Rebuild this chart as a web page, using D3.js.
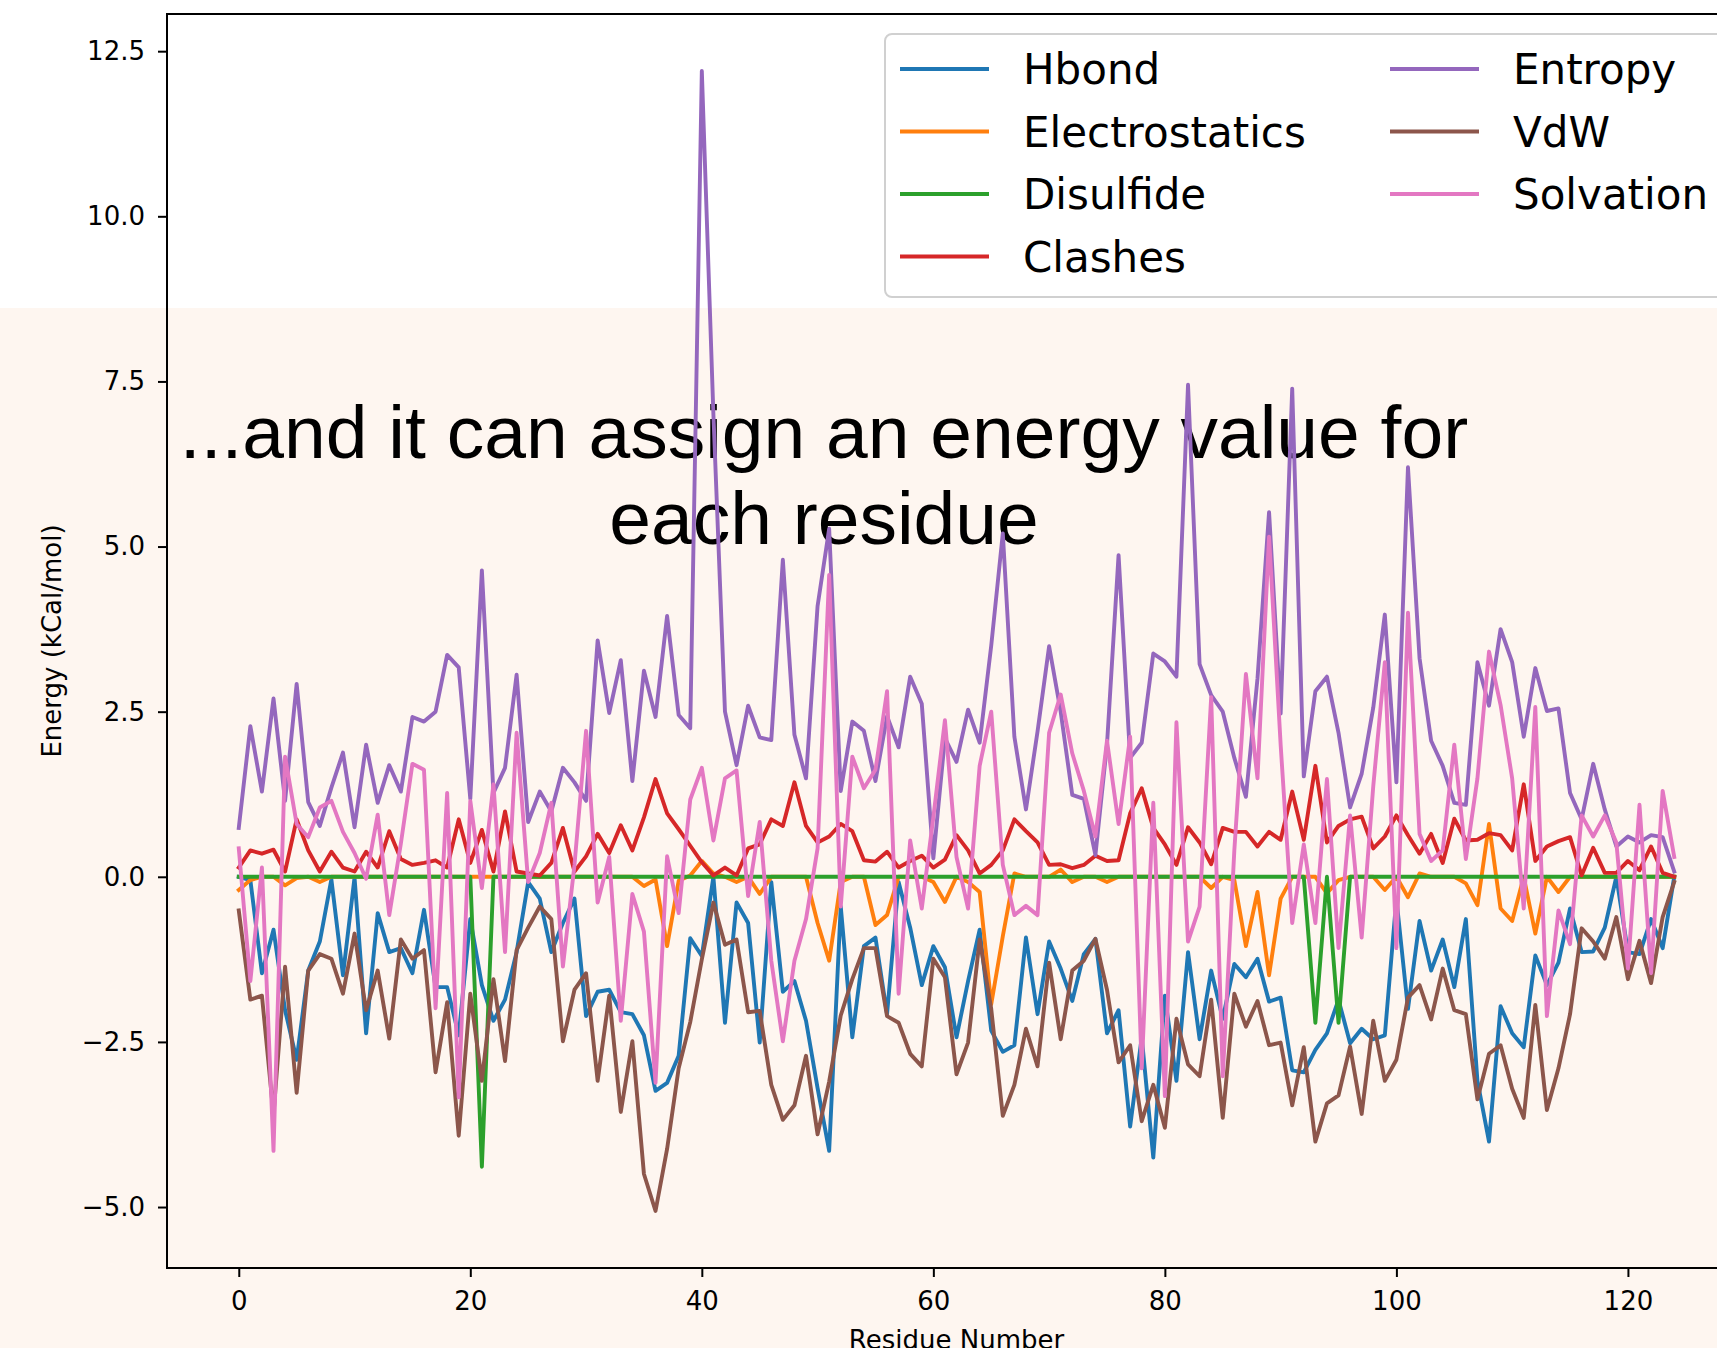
<!DOCTYPE html>
<html>
<head>
<meta charset="utf-8">
<script src="https://cdn.jsdelivr.net/npm/d3@7"></script>
<style>
  body { margin: 0; background: #fff; }
  svg { display: block; }
</style>
</head>
<body>
<svg id="svg"></svg>
<script>
var width = 1717,
    height = 1348;

// residue index on the x axis
var residues = d3.range(0, 125);

var hbond = [0,-0.05,-1.46,-0.8,-2.02,-2.77,-1.42,-0.98,-0.04,-1.49,-0.01,-2.37,-0.55,-1.14,-1.08,-1.46,-0.5,-1.67,-1.67,-2.4,
  -0.64,-1.64,-2.18,-1.86,-1.14,-0.08,-0.33,-1.14,-0.7,-0.33,-2.11,-1.74,-1.71,-2.05,-2.08,-2.4,-3.24,-3.12,-2.71,-0.93,
  -1.2,0,-2.21,-0.39,-0.7,-2.51,-0.08,-1.74,-1.58,-2.18,-3.2,-4.15,-0.45,-2.43,-1.05,-0.92,-2.08,-0.08,-0.77,-1.64,
  -1.05,-1.37,-2.43,-1.58,-0.8,-2.33,-2.65,-2.55,-0.92,-2.08,-0.98,-1.39,-1.88,-1.17,-0.94,-2.37,-2.02,-3.78,-2.43,-4.25,
  -1.8,-3.09,-1.14,-2.46,-1.42,-2.15,-1.32,-1.52,-1.24,-1.89,-1.83,-2.93,-2.96,-2.62,-2.37,-1.86,-2.52,-2.3,-2.46,-2.4,
  -0.33,-2.0,-0.67,-1.42,-0.95,-1.67,-0.64,-3.09,-4.01,-1.96,-2.37,-2.58,-1.19,-1.64,-1.3,-0.48,-1.14,-1.13,-0.77,0,
  -1.14,-1.17,-0.64,-1.08,0];

var electrostatics = [-0.2,-0.05,0,0,-0.13,-0.02,0,-0.08,0,0,0,0,0,0,0,0,0,0,0,0,
  0,0,0,0,0,0,0,0,0,0,0,0,0,0,0,-0.14,-0.04,-1.05,-0.06,0.02,
  0.24,0.05,0,-0.08,0,-0.26,0,0,0,0,-0.7,-1.27,-0.08,0,0,-0.73,-0.58,0,0,0,
  -0.08,-0.38,0,-0.08,-0.23,-1.93,-0.9,0.05,0,0,0,0.11,-0.08,0,0,-0.08,0,0,0,0,
  0,0,0,0,-0.17,0,-0.05,-1.05,-0.23,-1.49,-0.33,0,0,0,-0.25,-0.05,0,0,0,-0.2,
  0,-0.31,0.05,0,0,0,-0.1,-0.43,0.8,-0.48,-0.67,0,-0.86,0,-0.23,0,0,0,0,0,
  0,0,0,0,0];

var disulfide = [0,0,0,0,0,0,0,0,0,0,0,0,0,0,0,0,0,0,0,0,
  0,-4.39,0,0,0,0,0,0,0,0,0,0,0,0,0,0,0,0,0,0,
  0,0,0,0,0,0,0,0,0,0,0,0,0,0,0,0,0,0,0,0,
  0,0,0,0,0,0,0,0,0,0,0,0,0,0,0,0,0,0,0,0,
  0,0,0,0,0,0,0,0,0,0,0,0,0,-2.21,0,-2.21,0,0,0,0,
  0,0,0,0,0,0,0,0,0,0,0,0,0,0,0,0,0,0,0,0,
  0,0,0,0,0];

var clashes = [0.14,0.4,0.35,0.41,0.08,0.87,0.4,0.08,0.38,0.14,0.08,0.38,0.14,0.69,0.27,0.18,0.21,0.25,0.14,0.87,
  0.21,0.71,0.08,0.99,0.08,0.05,0.02,0.21,0.74,0.08,0.31,0.65,0.36,0.78,0.4,0.9,1.48,0.96,0.72,0.47,
  0.22,0.02,0.14,0.02,0.43,0.49,0.87,0.77,1.43,0.77,0.52,0.61,0.8,0.69,0.25,0.23,0.38,0.14,0.24,0.32,
  0.14,0.26,0.63,0.4,0.05,0.18,0.4,0.87,0.69,0.52,0.18,0.19,0.13,0.18,0.32,0.24,0.25,0.96,1.34,0.74,
  0.49,0.18,0.75,0.52,0.19,0.74,0.68,0.68,0.46,0.68,0.56,1.29,0.56,1.68,0.52,0.77,0.87,0.91,0.43,0.61,
  0.93,0.63,0.35,0.65,0.21,0.88,0.55,0.56,0.66,0.63,0.4,1.4,0.24,0.46,0.54,0.6,0.02,0.44,0.06,0.06,
  0.24,0.1,0.46,0.06,0];

var entropy = [0.74,2.28,1.29,2.7,1.15,2.92,1.13,0.77,1.35,1.88,0.75,2.0,1.12,1.69,1.29,2.42,2.35,2.5,3.36,3.17,
  1.18,4.64,1.27,1.65,3.06,0.83,1.29,0.99,1.65,1.43,1.15,3.58,2.48,3.28,1.45,3.12,2.42,3.95,2.45,2.25,
  12.2,7.0,2.5,1.69,2.59,2.11,2.07,4.8,2.15,1.49,4.1,5.27,1.3,2.35,2.21,1.45,2.43,1.96,3.03,2.62,
  0.28,2.1,1.74,2.53,2.03,3.5,5.2,2.12,1.02,2.2,3.49,2.5,1.24,1.18,0.33,2.0,4.87,1.8,2.03,3.38,
  3.26,3.03,7.45,3.22,2.75,2.5,1.8,1.21,3.0,5.52,2.47,7.39,1.52,2.81,3.03,2.18,1.05,1.56,2.56,3.97,
  1.43,6.2,3.31,2.06,1.68,1.12,1.09,3.25,2.59,3.75,3.25,2.12,3.16,2.51,2.55,1.27,0.87,1.71,1.02,0.46,
  0.61,0.52,0.63,0.6,0.08];

var vdw = [-0.51,-1.86,-1.8,-3.6,-1.36,-3.27,-1.42,-1.17,-1.24,-1.77,-0.86,-2.02,-1.42,-2.45,-0.95,-1.24,-1.11,-2.96,-1.9,-3.92,
  -1.77,-3.09,-1.55,-2.79,-1.11,-0.77,-0.45,-0.64,-2.49,-1.71,-1.46,-3.09,-1.8,-3.56,-2.49,-4.5,-5.06,-4.12,-2.9,-2.2,
  -1.25,-0.39,-1.03,-0.95,-2.05,-2.03,-3.15,-3.68,-3.46,-2.71,-3.9,-3.1,-2.1,-1.55,-1.08,-1.08,-2.11,-2.21,-2.68,-2.87,
  -1.24,-1.52,-2.99,-2.51,-0.95,-2.0,-3.62,-3.15,-2.3,-2.87,-1.3,-2.46,-1.42,-1.27,-0.94,-1.71,-2.81,-2.55,-3.7,-3.15,
  -3.8,-2.15,-2.84,-3.02,-1.86,-3.65,-1.77,-2.27,-1.88,-2.55,-2.51,-3.46,-2.58,-4.01,-3.43,-3.31,-2.57,-3.59,-2.18,-3.09,
  -2.77,-1.83,-1.64,-2.16,-1.39,-2.02,-2.08,-3.37,-2.68,-2.55,-3.21,-3.65,-1.94,-3.53,-2.9,-2.08,-0.78,-0.98,-1.24,-0.61,
  -1.55,-0.97,-1.61,-0.61,-0.08];

var solvation = [0.43,-1.58,0.14,-4.15,1.82,0.8,0.6,1.05,1.15,0.68,0.36,-0.03,0.94,-0.58,0.5,1.71,1.62,-1.99,1.27,-3.34,
  1.15,-0.17,1.4,-1.14,2.18,-0.08,0.36,1.12,-1.36,0.18,2.21,-0.39,0.3,-2.18,-0.26,-0.83,-3.12,0.31,-0.55,1.17,
  1.65,0.55,1.49,1.61,-0.29,0.83,-1.27,-2.49,-1.27,-0.64,0.43,4.57,-0.45,1.82,1.34,1.62,2.81,-1.77,0.55,-0.48,
  0.9,2.37,0.3,-0.48,1.68,2.5,0.18,-0.58,-0.44,-0.58,2.18,2.76,1.87,1.3,0.61,2.06,0.8,2.12,-2.9,1.12,
  -3.32,2.34,-0.98,-0.45,2.72,-3.02,0.4,3.07,1.49,5.15,2.0,-0.7,0.49,-0.7,1.48,-1.08,0.93,-0.92,1.37,3.25,
  -1.08,4.0,0.65,0.24,0.4,2.0,0.27,1.49,3.41,2.6,1.49,-0.48,2.57,-2.11,-0.51,-1.02,0.93,0.61,0.93,0.52,
  -1.39,1.09,-1.46,1.3,0.3];

var seriesNames = ["Hbond", "Electrostatics", "Disulfide", "Clashes", "Entropy", "VdW", "Solvation"];
var seriesValues = [hbond, electrostatics, disulfide, clashes, entropy, vdw, solvation];
var seriesColors = ["#1f77b4", "#ff7f0e", "#2ca02c", "#d62728", "#9467bd", "#8c564b", "#e377c2"];

var yTicks = [-5, -2.5, 0, 2.5, 5, 7.5, 10, 12.5];
var xTicks = [0, 20, 40, 60, 80, 100, 120];

var svg = d3.select("#svg")
    .attr("width", width)
    .attr("height", height);

// peach slide background below the white strip
svg.append("rect")
    .attr("x", 0).attr("y", 308)
    .attr("width", width).attr("height", height - 308)
    .attr("fill", "#fef6f0");

// overlay caption from the slide
var caption = svg.append("text")
    .attr("text-anchor", "middle")
    .style("font-family", "'Liberation Sans', Arial, sans-serif")
    .style("font-size", "75px")
    .attr("fill", "#000");
caption.append("tspan").attr("x", 824).attr("y", 458).text("...and it can assign an energy value for");
caption.append("tspan").attr("x", 824).attr("y", 544).text("each residue");

// matplotlib style 5% margins
var allValues = d3.merge(seriesValues);
var yExt = d3.extent(allValues),
    yPad = (yExt[1] - yExt[0]) * 0.05;
var xExt = d3.extent(residues),
    xPad = (xExt[1] - xExt[0]) * 0.05;

var plotLeft = 167, plotRight = 1746, plotTop = 14, plotBottom = 1268;

var x = d3.scaleLinear()
    .domain([xExt[0] - xPad, xExt[1] + xPad])
    .range([plotLeft, plotRight]);

var y = d3.scaleLinear()
    .domain([yExt[0] - yPad, yExt[1] + yPad])
    .range([plotBottom, plotTop]);

var fontFamily = "'DejaVu Sans', sans-serif";

var xAxis = svg.append("g")
    .attr("transform", "translate(0," + plotBottom + ")")
    .call(d3.axisBottom(x).tickValues(xTicks).tickFormat(d3.format("d")).tickSize(9).tickPadding(15));

var yAxis = svg.append("g")
    .attr("transform", "translate(" + plotLeft + ",0)")
    .call(d3.axisLeft(y).tickValues(yTicks).tickFormat(d3.format(".1f")).tickSize(9).tickPadding(13));

[xAxis, yAxis].forEach(function(g) {
  g.select(".domain").remove();
  g.selectAll(".tick line").attr("stroke", "#000").attr("stroke-width", 2);
  g.selectAll(".tick text")
    .attr("fill", "#000")
    .style("font-family", fontFamily)
    .style("font-size", "26px");
});

// spines (right one falls outside the picture)
svg.append("rect")
    .attr("x", plotLeft).attr("y", plotTop)
    .attr("width", plotRight - plotLeft).attr("height", plotBottom - plotTop)
    .attr("fill", "none")
    .attr("stroke", "#000")
    .attr("stroke-width", 2);

svg.append("text")
    .attr("x", (plotLeft + plotRight) / 2)
    .attr("y", 1349)
    .attr("text-anchor", "middle")
    .style("font-family", fontFamily)
    .style("font-size", "26px")
    .text("Residue Number");

svg.append("text")
    .attr("transform", "translate(61," + (plotTop + plotBottom) / 2 + ") rotate(-90)")
    .attr("text-anchor", "middle")
    .style("font-family", fontFamily)
    .style("font-size", "26px")
    .text("Energy (kCal/mol)");

var line = d3.line()
    .x(function(d, i) { return x(residues[i]); })
    .y(function(d) { return y(d); });

seriesValues.forEach(function(vals, k) {
  svg.append("path")
    .datum(vals)
    .attr("d", line)
    .attr("fill", "none")
    .attr("stroke", seriesColors[k])
    .attr("stroke-width", 3.9)
    .attr("stroke-linejoin", "round")
    .attr("stroke-linecap", "square");
});

// legend, two columns
var legend = svg.append("g");
legend.append("rect")
    .attr("x", 885).attr("y", 34)
    .attr("width", 900).attr("height", 263)
    .attr("rx", 7)
    .attr("fill", "#fff")
    .attr("fill-opacity", 0.8)
    .attr("stroke", "#d0d0d0")
    .attr("stroke-width", 2);

var rowY = [69, 131.5, 194, 256.5];
var colX = [900, 1390];

seriesNames.forEach(function(name, k) {
  var col = k < 4 ? 0 : 1,
      row = k < 4 ? k : k - 4;
  var lx = colX[col], ly = rowY[row];
  legend.append("line")
    .attr("x1", lx).attr("x2", lx + 89)
    .attr("y1", ly).attr("y2", ly)
    .attr("stroke", seriesColors[k])
    .attr("stroke-width", 3.9);
  legend.append("text")
    .attr("x", lx + 123)
    .attr("y", ly + 15)
    .style("font-family", fontFamily)
    .style("font-size", "42px")
    .attr("fill", "#000")
    .text(name);
});
</script>
</body>
</html>
